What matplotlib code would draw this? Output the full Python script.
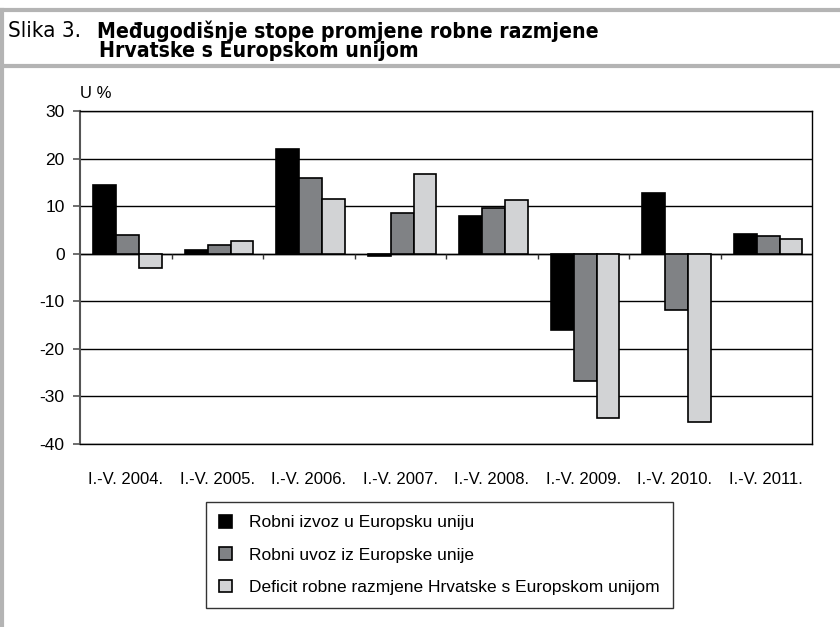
import matplotlib.pyplot as plt
import numpy as np
from matplotlib.lines import Line2D

# podaci
periods = ['I.-V. 2004.', 'I.-V. 2005.', 'I.-V. 2006.', 'I.-V. 2007.',
           'I.-V. 2008.', 'I.-V. 2009.', 'I.-V. 2010.', 'I.-V. 2011.']
izvoz = [14.5, 0.8, 22.0, -0.4, 7.9, -16.1, 12.7, 4.2]
uvoz = [4.0, 1.9, 16.0, 8.5, 9.7, -26.8, -11.9, 3.8]
deficit = [-3.0, 2.6, 11.5, 16.7, 11.2, -34.6, -35.3, 3.0]
series_names = ['Robni izvoz u Europsku uniju',
                'Robni uvoz iz Europske unije',
                'Deficit robne razmjene Hrvatske s Europskom unijom']
yticks = [-40, -30, -20, -10, 0, 10, 20, 30]

plt.rcParams['font.family'] = ['Liberation Sans', 'DejaVu Sans']

W, H = 840, 627
fig = plt.figure(figsize=(W / 100, H / 100), dpi=100)

# okvir oko slike
border = '#b4b4b4'
fig.add_artist(Line2D([0, 1], [1 - 10 / H, 1 - 10 / H], color=border, lw=3))
fig.add_artist(Line2D([0, 1], [1 - 66 / H, 1 - 66 / H], color=border, lw=3))
fig.add_artist(Line2D([2 / W, 2 / W], [0, 1 - 10 / H], color=border, lw=3))

fig.text(8 / W, 1 - 31 / H, 'Slika 3.', family='DejaVu Sans', fontstretch='condensed',
         fontsize=16, va='center')
fig.text(97 / W, 1 - 31 / H, 'Međugodišnje stope promjene robne razmjene',
         family='DejaVu Sans', fontstretch='condensed',
         fontsize=15.2, fontweight='bold', va='center')
fig.text(99 / W, 1 - 51 / H, 'Hrvatske s Europskom unijom',
         family='DejaVu Sans', fontstretch='condensed',
         fontsize=15.2, fontweight='bold', va='center')

ax = fig.add_axes([80 / W, 1 - 444 / H, 732 / W, 333 / H])
x = np.arange(len(periods))
bw = 0.25
colors = ['#000000', '#808285', '#d2d3d5']
for k, (vals, c, name) in enumerate(zip([izvoz, uvoz, deficit], colors, series_names)):
    ax.bar(x + (k - 1) * bw + 0.02, vals, bw, color=c, edgecolor='black', linewidth=1.2,
           label=name, zorder=3)

ax.set_xlim(-0.5, len(periods) - 0.5)
ax.set_ylim(-40, 30)
ax.set_yticks(yticks)
ax.set_yticklabels([str(v) for v in yticks], fontsize=12.5)
ax.yaxis.grid(True, color='black', linewidth=1)
ax.set_axisbelow(True)
ax.axhline(0, color='black', linewidth=1, zorder=2)

ax.set_xticks(x)
ax.set_xticklabels(periods, fontsize=12)
ax.tick_params(axis='x', length=0, pad=20)
ax.tick_params(axis='y', length=5, color='#555555', width=1.2, pad=6)

# oznake izmedju kategorija na nultoj liniji
ax.vlines(x[1:] - 0.5, -1.1, 0, color='#333333', linewidth=1, zorder=2)

ax.spines['left'].set_color('#555555')
ax.spines['left'].set_linewidth(1.5)
for s in ['top', 'right', 'bottom']:
    ax.spines[s].set_color('black')
    ax.spines[s].set_linewidth(1)

fig.text(80 / W, 1 - 93 / H, 'U %', fontsize=12, va='center')

leg = fig.legend(loc='upper left', bbox_to_anchor=(206 / W, 1 - 502 / H),
                 fontsize=12.5, frameon=True, fancybox=False, edgecolor='black',
                 handlelength=0.75, handleheight=0.75, handletextpad=1.0,
                 labelspacing=0.97, borderpad=0.75, borderaxespad=0)
leg.get_frame().set_linewidth(1)

fig.savefig('out.png', dpi=100)
